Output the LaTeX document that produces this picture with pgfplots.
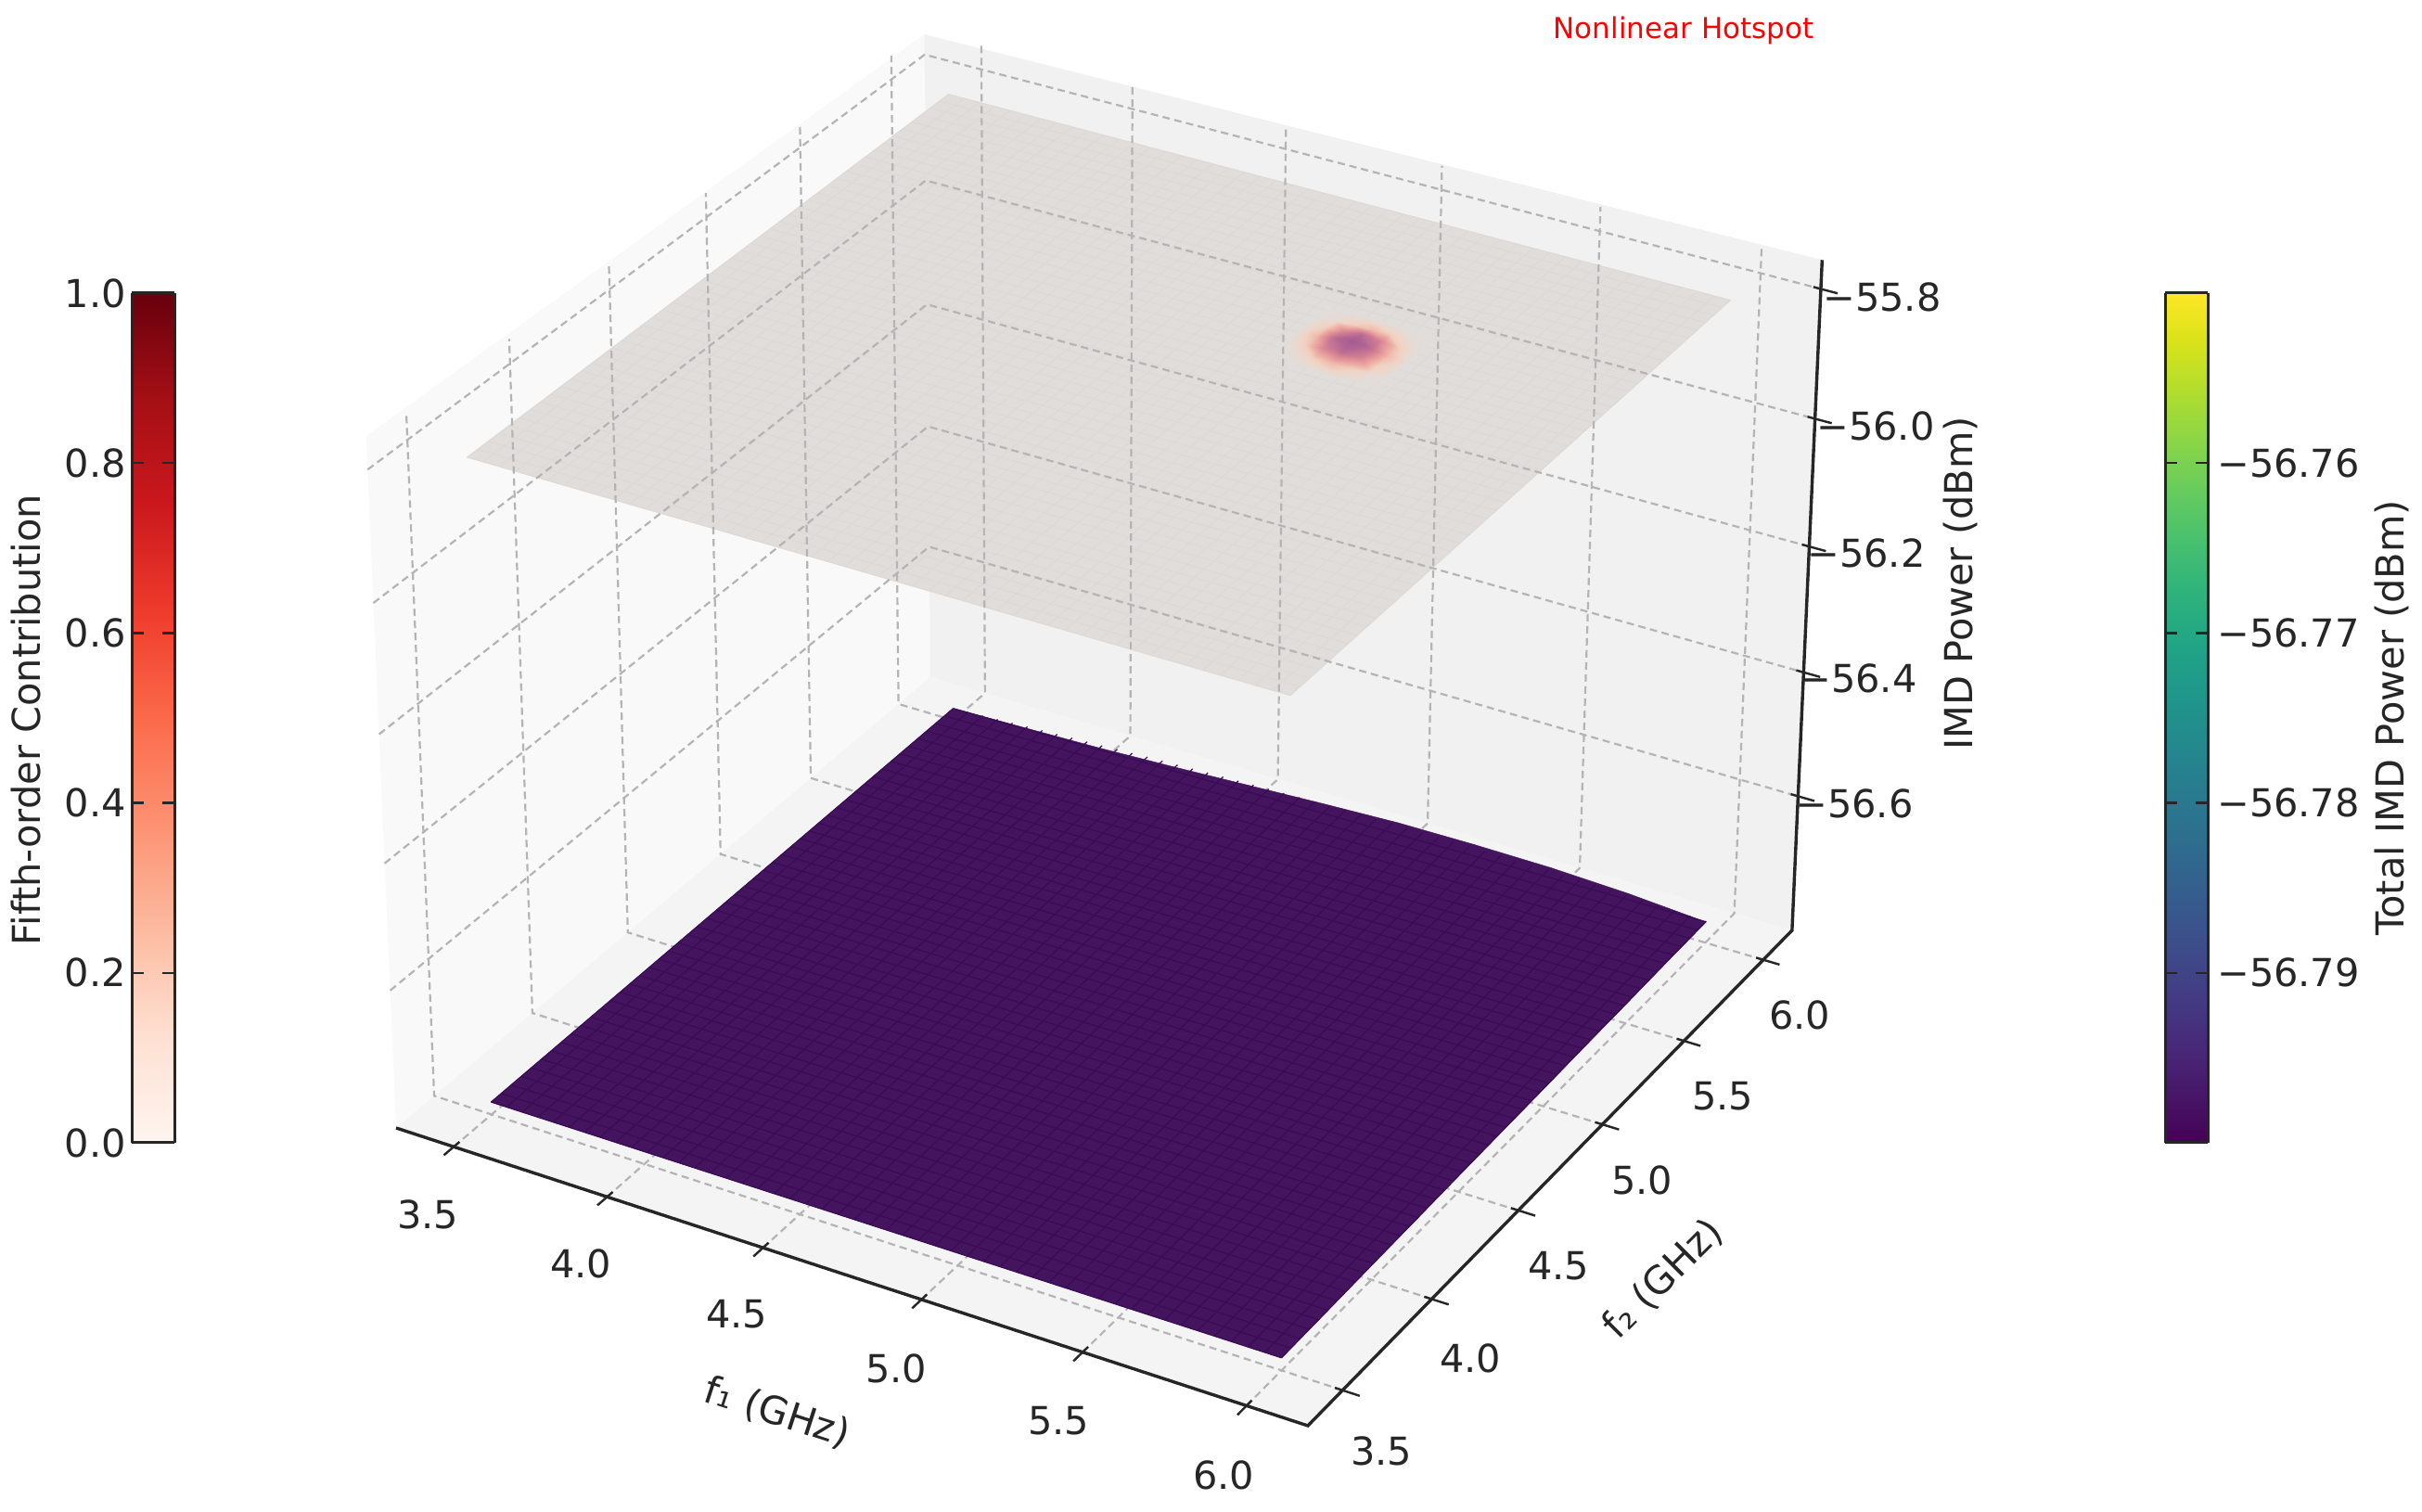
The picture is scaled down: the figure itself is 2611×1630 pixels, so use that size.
\documentclass[border=0pt]{standalone}
\usepackage{fontspec}
\setmainfont{DejaVu Sans}
\usepackage{pgfplots}
\usepackage{pgfplotstable}
\pgfplotsset{compat=1.18}
\newcommand\bigf{\fontsize{41.5}{47}\selectfont}
\definecolor{axc}{RGB}{38,38,38}
\definecolor{gridc}{RGB}{180,180,180}
\definecolor{paneL}{RGB}{249,249,249}
\definecolor{paneB}{RGB}{241,241,241}
\definecolor{paneF}{RGB}{244,244,244}
\definecolor{meshU}{RGB}{221,217,214}
\definecolor{meshD}{RGB}{58,12,84}
\pgfplotsset{
 colormap={beige}{rgb255(0cm)=(225,221,218); rgb255(1cm)=(225,221,218)},
 colormap={darkp}{rgb255(0cm)=(68,20,95); rgb255(1cm)=(68,20,95)},
 colormap={hot}{rgb255(0cm)=(225,221,218); rgb255(1cm)=(240,212,197); rgb255(3cm)=(238,172,162); rgb255(5.5cm)=(215,132,147); rgb255(8cm)=(180,102,147); rgb255(10cm)=(160,92,147)},
 colormap={Reds}{rgb255=(255,245,240); rgb255=(254,224,210); rgb255=(252,187,161); rgb255=(252,146,114); rgb255=(251,106,74); rgb255=(239,59,44); rgb255=(203,24,29); rgb255=(165,15,21); rgb255=(103,0,13)},
}
% Surface data: f1 (GHz), f2 (GHz), IMD power (dBm)
\pgfplotstableread[row sep=\\]{f1 f2 z\\
3.5 3.5 -55.8\\3.5 4 -55.8\\3.5 4.5 -55.8\\3.5 5 -55.8\\3.5 5.5 -55.8\\3.5 6 -55.8\\
4 3.5 -55.8\\4 4 -55.8\\4 4.5 -55.8\\4 5 -55.8\\4 5.5 -55.8\\4 6 -55.8\\
4.5 3.5 -55.8\\4.5 4 -55.8\\4.5 4.5 -55.8\\4.5 5 -55.8\\4.5 5.5 -55.8\\4.5 6 -55.8\\
5 3.5 -55.8\\5 4 -55.8\\5 4.5 -55.8\\5 5 -55.8\\5 5.5 -55.8\\5 6 -55.8\\
5.5 3.5 -55.8\\5.5 4 -55.8\\5.5 4.5 -55.8\\5.5 5 -55.8\\5.5 5.5 -55.8\\5.5 6 -55.8\\
6 3.5 -55.8\\6 4 -55.8\\6 4.5 -55.8\\6 5 -55.8\\6 5.5 -55.8\\6 6 -55.8\\
}\planeT
% Hotspot: f1, f2, z, fifth-order contribution c
\pgfplotstableread[row sep=\\]{f1 f2 z c\\
5.061 5.064 -55.800 0.000\\5.061 5.121 -55.800 0.001\\5.061 5.178 -55.800 0.005\\5.061 5.235 -55.800 0.009\\5.061 5.292 -55.800 0.005\\5.061 5.349 -55.800 0.001\\5.061 5.406 -55.800 0.000\\
5.118 5.064 -55.800 0.001\\5.118 5.121 -55.800 0.030\\5.118 5.178 -55.799 0.130\\5.118 5.235 -55.799 0.220\\5.118 5.292 -55.799 0.130\\5.118 5.349 -55.800 0.030\\5.118 5.406 -55.800 0.001\\
5.175 5.064 -55.800 0.005\\5.175 5.121 -55.799 0.130\\5.175 5.178 -55.796 0.550\\5.175 5.235 -55.794 0.750\\5.175 5.292 -55.796 0.550\\5.175 5.349 -55.799 0.130\\5.175 5.406 -55.800 0.005\\
5.232 5.064 -55.800 0.009\\5.232 5.121 -55.799 0.220\\5.232 5.178 -55.794 0.750\\5.232 5.235 -55.790 1.000\\5.232 5.292 -55.794 0.750\\5.232 5.349 -55.799 0.220\\5.232 5.406 -55.800 0.009\\
5.289 5.064 -55.800 0.005\\5.289 5.121 -55.799 0.130\\5.289 5.178 -55.796 0.550\\5.289 5.235 -55.794 0.750\\5.289 5.292 -55.796 0.550\\5.289 5.349 -55.799 0.130\\5.289 5.406 -55.800 0.005\\
5.346 5.064 -55.800 0.001\\5.346 5.121 -55.800 0.030\\5.346 5.178 -55.799 0.130\\5.346 5.235 -55.799 0.220\\5.346 5.292 -55.799 0.130\\5.346 5.349 -55.800 0.030\\5.346 5.406 -55.800 0.001\\
5.403 5.064 -55.800 0.000\\5.403 5.121 -55.800 0.001\\5.403 5.178 -55.800 0.005\\5.403 5.235 -55.800 0.009\\5.403 5.292 -55.800 0.005\\5.403 5.349 -55.800 0.001\\5.403 5.406 -55.800 0.000\\
}\hotT
\pgfplotstableread[row sep=\\]{f1 f2 z\\
3.5 3.5 -56.800\\3.5 3.75 -56.800\\3.5 4 -56.800\\3.5 4.25 -56.800\\3.5 4.5 -56.800\\3.5 4.75 -56.800\\3.5 5 -56.800\\3.5 5.25 -56.800\\3.5 5.5 -56.800\\3.5 5.75 -56.800\\3.5 6 -56.800\\
3.75 3.5 -56.800\\3.75 3.75 -56.800\\3.75 4 -56.800\\3.75 4.25 -56.800\\3.75 4.5 -56.800\\3.75 4.75 -56.799\\3.75 5 -56.799\\3.75 5.25 -56.799\\3.75 5.5 -56.798\\3.75 5.75 -56.798\\3.75 6 -56.797\\
4 3.5 -56.800\\4 3.75 -56.800\\4 4 -56.800\\4 4.25 -56.800\\4 4.5 -56.799\\4 4.75 -56.799\\4 5 -56.798\\4 5.25 -56.797\\4 5.5 -56.797\\4 5.75 -56.795\\4 6 -56.794\\
4.25 3.5 -56.800\\4.25 3.75 -56.800\\4.25 4 -56.800\\4.25 4.25 -56.799\\4.25 4.5 -56.799\\4.25 4.75 -56.798\\4.25 5 -56.797\\4.25 5.25 -56.795\\4.25 5.5 -56.793\\4.25 5.75 -56.791\\4.25 6 -56.789\\
4.5 3.5 -56.800\\4.5 3.75 -56.800\\4.5 4 -56.800\\4.5 4.25 -56.799\\4.5 4.5 -56.798\\4.5 4.75 -56.797\\4.5 5 -56.795\\4.5 5.25 -56.792\\4.5 5.5 -56.790\\4.5 5.75 -56.787\\4.5 6 -56.783\\
4.75 3.5 -56.800\\4.75 3.75 -56.800\\4.75 4 -56.800\\4.75 4.25 -56.799\\4.75 4.5 -56.798\\4.75 4.75 -56.795\\4.75 5 -56.793\\4.75 5.25 -56.790\\4.75 5.5 -56.786\\4.75 5.75 -56.781\\4.75 6 -56.777\\
5 3.5 -56.800\\5 3.75 -56.800\\5 4 -56.800\\5 4.25 -56.799\\5 4.5 -56.797\\5 4.75 -56.794\\5 5 -56.792\\5 5.25 -56.787\\5 5.5 -56.783\\5 5.75 -56.778\\5 6 -56.772\\
5.25 3.5 -56.800\\5.25 3.75 -56.800\\5.25 4 -56.800\\5.25 4.25 -56.799\\5.25 4.5 -56.797\\5.25 4.75 -56.794\\5.25 5 -56.791\\5.25 5.25 -56.787\\5.25 5.5 -56.783\\5.25 5.75 -56.777\\5.25 6 -56.771\\
5.5 3.5 -56.800\\5.5 3.75 -56.800\\5.5 4 -56.800\\5.5 4.25 -56.799\\5.5 4.5 -56.797\\5.5 4.75 -56.794\\5.5 5 -56.792\\5.5 5.25 -56.787\\5.5 5.5 -56.783\\5.5 5.75 -56.777\\5.5 6 -56.772\\
5.75 3.5 -56.800\\5.75 3.75 -56.800\\5.75 4 -56.800\\5.75 4.25 -56.799\\5.75 4.5 -56.798\\5.75 4.75 -56.795\\5.75 5 -56.793\\5.75 5.25 -56.790\\5.75 5.5 -56.786\\5.75 5.75 -56.781\\5.75 6 -56.777\\
6 3.5 -56.800\\6 3.75 -56.799\\6 4 -56.797\\6 4.25 -56.796\\6 4.5 -56.794\\6 4.75 -56.793\\6 5 -56.792\\6 5.25 -56.790\\6 5.5 -56.789\\6 5.75 -56.787\\6 6 -56.786\\
}\surfT
\pgfplotstableread[row sep=\\]{u v w\\0 0 0\\0 1 0\\0 1 1.035\\0 0 1.0526\\}\paneLT
\pgfplotstableread[row sep=\\]{u v w\\0 1 0\\1 1 0\\1 1 1.047\\0 1 1.035\\}\paneBT
\pgfplotstableread[row sep=\\]{u v w\\0 0 0\\1 0 0\\1 1 0\\0 1 0\\}\paneFT
\pgfplotstableread[row sep=\\]{u v w\\0 0 0\\1 0 0\\1 1 0\\1 1 1.047\\}\spineT
\pgfplotstableread[row sep=\\]{a b\\0 0\\1 0\\1 1.04\\}\gridT
\pgfplotstableread[row sep=\\]{a b\\0 0\\0 1\\1 1\\}\gridZT
\pgfplotstableread[row sep=\\]{t d\\0 0\\1 0\\}\segT
\begin{document}
\begin{tikzpicture}[x=1pt,y=1pt]
\useasboundingbox (0,0) rectangle (2611,1630);
\begin{axis}[anchor=south west, at={(0,0)}, scale only axis, width=2611pt, height=1630pt,
 xmin=0,xmax=2611,ymin=0,ymax=1630,zmin=-1,zmax=1, hide axis, view={0}{90}, clip=false,
 point meta min=0, point meta max=1,
 declare function={
  DD(\u,\v,\w)=1-0.0467*\u+0.0844*\v-0.04*\w;
  px(\u,\v,\w)=(427+917.1*\u+660.6*\v-46.5*\w)/DD(\u,\v,\w);
  py(\u,\v,\w)=1630-(1216+249.2*\u-424.4*\v-727.5*\w)/DD(\u,\v,\w);
  uf(\f)=(\f-3.31)/2.875;
  wz(\z)=(\z+56.82)/1.0164;
 }]
% panes
\addplot[fill=paneL,draw=none] table[x expr={px(\thisrow{u},\thisrow{v},\thisrow{w})},y expr={py(\thisrow{u},\thisrow{v},\thisrow{w})}]{\paneLT};
\addplot[fill=paneB,draw=none] table[x expr={px(\thisrow{u},\thisrow{v},\thisrow{w})},y expr={py(\thisrow{u},\thisrow{v},\thisrow{w})}]{\paneBT};
\addplot[fill=paneF,draw=none] table[x expr={px(\thisrow{u},\thisrow{v},\thisrow{w})},y expr={py(\thisrow{u},\thisrow{v},\thisrow{w})}]{\paneFT};
% upper surface
\addplot3[surf,shader=flat,colormap name=beige,point meta=0,mesh/rows=6] table[
 x expr={px(uf(\thisrow{f1}),uf(\thisrow{f2}),wz(\thisrow{z}))},
 y expr={py(uf(\thisrow{f1}),uf(\thisrow{f2}),wz(\thisrow{z}))}, z expr=0]{\planeT};
\pgfplotsinvokeforeach{0,...,49}{
 \addplot[meshU,line width=1pt] table[x expr={px(uf(3.5+#1*0.05102),uf(3.5+\thisrow{t}*2.5),wz(-55.8))},y expr={py(uf(3.5+#1*0.05102),uf(3.5+\thisrow{t}*2.5),wz(-55.8))}]{\segT};
 \addplot[meshU,line width=1pt] table[x expr={px(uf(3.5+\thisrow{t}*2.5),uf(3.5+#1*0.05102),wz(-55.8))},y expr={py(uf(3.5+\thisrow{t}*2.5),uf(3.5+#1*0.05102),wz(-55.8))}]{\segT};
}
% hotspot
\addplot3[surf,shader=interp,colormap name=hot,point meta=\thisrow{c},mesh/rows=7] table[
 x expr={px(uf(\thisrow{f1}),uf(\thisrow{f2}),wz(\thisrow{z}))},
 y expr={py(uf(\thisrow{f1}),uf(\thisrow{f2}),wz(\thisrow{z}))}, z expr=0]{\hotT};
% grid
\pgfplotsset{gridl/.style={gridc,line width=2.2pt,dash pattern=on 8pt off 5pt}}
\pgfplotsinvokeforeach{3.5,4,4.5,5,5.5,6}{
 \addplot[gridl] table[x expr={px(uf(#1),\thisrow{a},\thisrow{b})},y expr={py(uf(#1),\thisrow{a},\thisrow{b})}]{\gridT};
 \addplot[gridl] table[x expr={px(1-\thisrow{a},uf(#1),\thisrow{b})},y expr={py(1-\thisrow{a},uf(#1),\thisrow{b})}]{\gridT};
}
\pgfplotsinvokeforeach{-55.8,-56.0,-56.2,-56.4,-56.6}{
 \addplot[gridl] table[x expr={px(\thisrow{a},\thisrow{b},wz(#1))},y expr={py(\thisrow{a},\thisrow{b},wz(#1))}]{\gridZT};
}
% lower surface
\addplot3[surf,shader=flat,colormap name=darkp,point meta=0,mesh/rows=11] table[
 x expr={px(uf(\thisrow{f1}),uf(\thisrow{f2}),wz(\thisrow{z}))},
 y expr={py(uf(\thisrow{f1}),uf(\thisrow{f2}),wz(\thisrow{z}))}, z expr=0]{\surfT};
\pgfplotsinvokeforeach{0,...,49}{
 \addplot[meshD,line width=1.2pt] table[x expr={px(uf(3.5+#1*0.05102),uf(3.5+\thisrow{t}*2.5),wz(-56.8+\thisrow{t}*0.024*sin(140*#1/49)))},y expr={py(uf(3.5+#1*0.05102),uf(3.5+\thisrow{t}*2.5),wz(-56.8+\thisrow{t}*0.024*sin(140*#1/49)))}]{\segT};
 \addplot[meshD,line width=1.2pt] table[x expr={px(uf(3.5+\thisrow{t}*2.5),uf(3.5+#1*0.05102),wz(-56.8+\thisrow{t}*0.0143*#1/49))},y expr={py(uf(3.5+\thisrow{t}*2.5),uf(3.5+#1*0.05102),wz(-56.8+\thisrow{t}*0.0143*#1/49))}]{\segT};
}
% spines and ticks
\addplot[axc,line width=3.4pt,line join=miter] table[x expr={px(\thisrow{u},\thisrow{v},\thisrow{w})},y expr={py(\thisrow{u},\thisrow{v},\thisrow{w})}]{\spineT};
\pgfplotsinvokeforeach{3.5,4,4.5,5,5.5,6}{
 \addplot[axc,line width=2.4pt] table[x expr={px(uf(#1),-0.017+\thisrow{t}*0.027,0)},y expr={py(uf(#1),-0.017+\thisrow{t}*0.027,0)}]{\segT};
 \addplot[axc,line width=2.4pt] table[x expr={px(0.992+\thisrow{t}*0.026,uf(#1),0)},y expr={py(0.992+\thisrow{t}*0.026,uf(#1),0)}]{\segT};
}
\pgfplotsinvokeforeach{-55.8,-56.0,-56.2,-56.4,-56.6}{
 \addplot[axc,line width=2.4pt] table[x expr={px(0.992+\thisrow{t}*0.026,1,wz(#1))},y expr={py(0.992+\thisrow{t}*0.026,1,wz(#1))}]{\segT};
}
% texts
\def\lab(#1,#2)#3{\node[font=\bigf,text=axc,anchor=center,inner sep=0pt] at (axis cs:#1,1630-#2) {#3};}
\lab(461,1309){3.5}\lab(626,1362){4.0}\lab(794,1417){4.5}\lab(966,1475){5.0}\lab(1141,1532){5.5}\lab(1319,1590){6.0}
\lab(1489,1564){3.5}\lab(1585,1464){4.0}\lab(1680,1365){4.5}\lab(1770,1272){5.0}\lab(1857,1182){5.5}\lab(1940,1094){6.0}
\def\zlab(#1,#2)#3{\node[font=\bigf,text=axc,anchor=west,inner sep=0pt] at (axis cs:#1,1630-#2) {#3};}
\zlab(1965,320){−55.8}\zlab(1958,459){−56.0}\zlab(1948,596){−56.2}\zlab(1939,731){−56.4}\zlab(1935,866){−56.6}
\node[font=\bigf,text=axc,rotate=-18,inner sep=0pt] at (axis cs:838,1630-1523) {f₁ (GHz)};
\node[font=\bigf,text=axc,rotate=45,inner sep=0pt] at (axis cs:1793,1630-1379) {f₂ (GHz)};
\node[font=\bigf,text=axc,rotate=90,inner sep=0pt] at (axis cs:2113,1630-629) {IMD Power (dBm)};
\node[font=\fontsize{31}{36}\selectfont,text=red,inner sep=0pt] at (axis cs:1815,1630-33) {Nonlinear Hotspot};
\node[font=\bigf,text=axc,rotate=90,inner sep=0pt] at (axis cs:28,1630-776) {Fifth-order Contribution};
\node[font=\bigf,text=axc,rotate=90,inner sep=0pt] at (axis cs:2578,1630-774) {Total IMD Power (dBm)};
\end{axis}
% colour bars
\begin{axis}[anchor=south west, at={(142pt,398pt)}, scale only axis, width=46pt, height=916pt,
 xmin=0,xmax=1,ymin=0,ymax=1, xtick=\empty, ytick={0,0.2,0.4,0.6,0.8,1},
 yticklabels={0.0,0.2,0.4,0.6,0.8,1.0}, yticklabel pos=left, tick align=inside,
 major tick length=13pt, tick style={axc,line width=2.4pt}, axis line style={axc,line width=3pt},
 yticklabel style={font=\bigf,text=axc,inner sep=0pt,xshift=-6pt}, axis on top, view={0}{90}, colormap name=Reds]
\addplot3[surf,shader=interp,point meta=y] coordinates {(0,0,0)(1,0,0)

(0,1,0)(1,1,0)};
\end{axis}
\begin{axis}[anchor=south west, at={(2334pt,398pt)}, scale only axis, width=46pt, height=916pt,
 xmin=0,xmax=1,ymin=-56.80,ymax=-56.75, xtick=\empty, ytick={-56.79,-56.78,-56.77,-56.76},
 yticklabels={−56.79,−56.78,−56.77,−56.76}, yticklabel pos=right, tick align=inside,
 major tick length=13pt, tick style={axc,line width=2.4pt}, axis line style={axc,line width=3pt},
 yticklabel style={font=\bigf,text=axc,inner sep=0pt,xshift=10pt}, axis on top, view={0}{90}, colormap/viridis]
\addplot3[surf,shader=interp,point meta=y] coordinates {(0,-56.80,0)(1,-56.80,0)

(0,-56.75,0)(1,-56.75,0)};
\end{axis}
\end{tikzpicture}
\end{document}
